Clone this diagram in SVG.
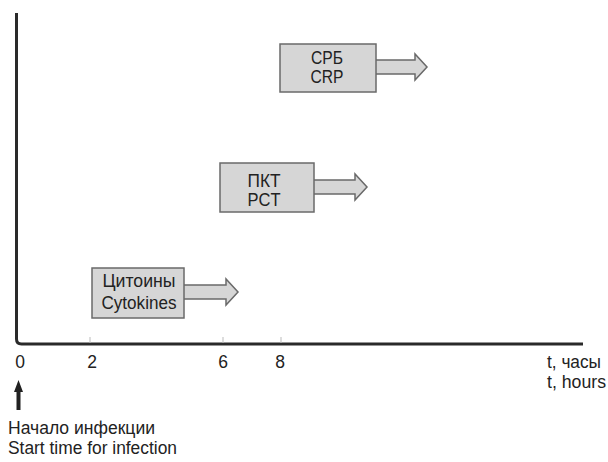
<svg xmlns="http://www.w3.org/2000/svg" width="608" height="462" viewBox="0 0 608 462">
<style>
text{font-family:"Liberation Sans",Arial,sans-serif;font-size:17.5px;fill:#222}
.c{text-anchor:middle}
.box{fill:#d6d6d6;stroke:#6a6a6a;stroke-width:1.5}
.arr{fill:#d6d6d6;stroke:#6a6a6a;stroke-width:1.5;stroke-linejoin:miter}
.axis{fill:none;stroke:#2a2a2a;stroke-width:3}
.tick{stroke:#bbb;stroke-width:1}
</style>
<rect width="608" height="462" fill="#fff"/>
<g id="axes">
<path class="axis" d="M16.5,13 V339 Q16.5,344 21.5,344 H583"/>
<line class="tick" x1="90" y1="337" x2="90" y2="343"/>
<line class="tick" x1="223" y1="337" x2="223" y2="343"/>
<line class="tick" x1="281" y1="337" x2="281" y2="343"/>
<text class="c" x="20" y="368">0</text>
<text class="c" x="92" y="368">2</text>
<text class="c" x="223" y="368">6</text>
<text class="c" x="280" y="368">8</text>
<text x="547" y="367.5" textLength="54" lengthAdjust="spacingAndGlyphs">t, часы</text>
<text x="547" y="387.5" textLength="59" lengthAdjust="spacingAndGlyphs">t, hours</text>
</g>
<g id="start">
<path d="M18.5,380 L23,392 H20.5 V410 H16.5 V392 H14 Z" fill="#222"/>
<text x="8" y="433.5" textLength="147" lengthAdjust="spacingAndGlyphs">Начало инфекции</text>
<text x="8" y="453.5" textLength="169" lengthAdjust="spacingAndGlyphs">Start time for infection</text>
</g>
<g id="connectors">
<path class="arr" d="M376,60 H415 V54 L427,67 L415,80 V74 H376"/>
<path class="arr" d="M314,180 H355 V174 L367,187 L355,200 V194 H314"/>
<path class="arr" d="M184,285 H226 V279 L238,292 L226,305 V299 H184"/>
</g>
<g id="crp">
<rect class="box" x="280" y="44" width="96" height="48"/>
<text class="c" x="327" y="63.5" textLength="32" lengthAdjust="spacingAndGlyphs">СРБ</text>
<text class="c" x="327" y="83" textLength="33" lengthAdjust="spacingAndGlyphs">CRP</text>
</g>
<g id="pct">
<rect class="box" x="220" y="163" width="94" height="49"/>
<text class="c" x="264" y="186.5" textLength="33" lengthAdjust="spacingAndGlyphs">ПКТ</text>
<text class="c" x="264" y="206" textLength="33" lengthAdjust="spacingAndGlyphs">PCT</text>
</g>
<g id="cytokines">
<rect class="box" x="92" y="268" width="92" height="50"/>
<text class="c" x="139" y="287" textLength="73" lengthAdjust="spacingAndGlyphs">Цитоины</text>
<text class="c" x="139" y="309" textLength="75" lengthAdjust="spacingAndGlyphs">Cytokines</text>
</g>
</svg>
